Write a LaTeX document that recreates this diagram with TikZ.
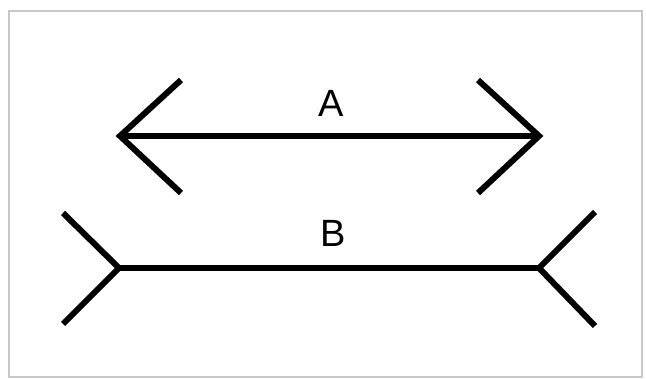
\documentclass[tikz,border=0pt]{standalone}
\usepackage{fontspec}
\setmainfont{Liberation Sans}
\begin{document}
\begin{tikzpicture}[x=1pt,y=-1pt,
  figline/.style={line width=6pt, black, line join=miter},
  lbl/.style={font=\fontsize{38}{40}\selectfont, inner sep=0pt}]
\useasboundingbox (0,0) rectangle (646,379);
\fill[white] (0,0) rectangle (646,379);
\draw[line width=1.6pt, black!22] (9,11) rectangle (642,377);
% line A
\coordinate (aL) at (120,136);
\coordinate (aR) at (539,136);
\coordinate (aL1) at (181,80);
\coordinate (aL2) at (181,193);
\coordinate (aR1) at (478,80);
\coordinate (aR2) at (478,193);
\draw[figline] (aL) -- (aR);
\draw[figline] (aL1) -- (aL) -- (aL2);
\draw[figline] (aR1) -- (aR) -- (aR2);
\node[lbl] (A) at (331,103) {A};
% line B
\coordinate (bL) at (119,268);
\coordinate (bR) at (539,268);
\coordinate (bL1) at (63,213);
\coordinate (bL2) at (63,324);
\coordinate (bR1) at (595,212);
\coordinate (bR2) at (595,326);
\draw[figline] (bL) -- (bR);
\draw[figline] (bL1) -- (bL) -- (bL2);
\draw[figline] (bR1) -- (bR) -- (bR2);
\node[lbl] (B) at (333,233) {B};
\end{tikzpicture}
\end{document}
